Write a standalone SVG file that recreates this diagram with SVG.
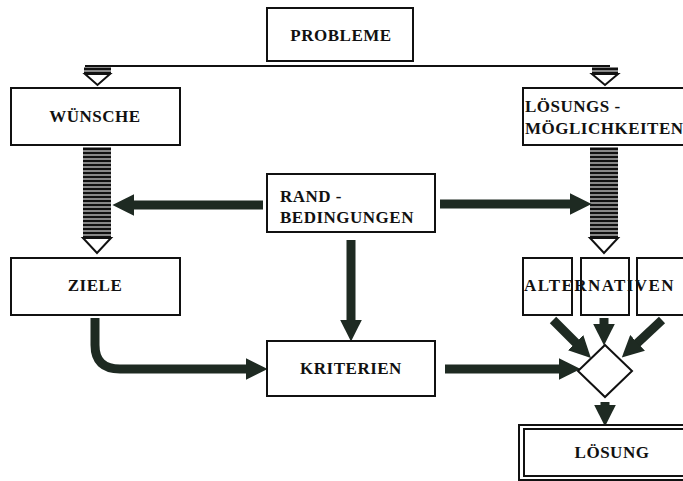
<svg xmlns="http://www.w3.org/2000/svg" width="683" height="481" viewBox="0 0 683 481">
<style>
.box{fill:#fff;stroke:#111;stroke-width:2}
.t{font-family:"Liberation Serif","DejaVu Serif",serif;font-weight:bold;font-size:17px;fill:#111;letter-spacing:0.5px}
.arr{stroke:#1e2a22;stroke-width:9;fill:none}
.tri{fill:#fff;stroke:#111;stroke-width:2}
</style>
<defs>
<pattern id="hatch" width="8" height="4" patternUnits="userSpaceOnUse">
<rect width="8" height="4" fill="#888"/>
<rect width="8" height="2" fill="#111"/>
</pattern>
<marker id="ah" markerWidth="2.4" markerHeight="2.4" refX="1" refY="1.2" orient="auto" markerUnits="strokeWidth">
<path d="M0,0 L2.4,1.2 L0,2.4 z" fill="#1e2a22"/>
</marker>
</defs>

<g id="connectors">
<line x1="85" y1="66" x2="610" y2="66" stroke="#111" stroke-width="2"/>
<rect x="84" y="67" width="27" height="7" fill="url(#hatch)"/>
<polygon class="tri" points="85,74 110,74 97.5,85"/>
<rect x="592" y="67" width="26" height="7" fill="url(#hatch)"/>
<polygon class="tri" points="592,74 618,74 605,85"/>
<rect x="83" y="147" width="28" height="91" fill="url(#hatch)"/>
<polygon class="tri" points="83,238 111,238 97,253"/>
<rect x="590" y="147" width="28" height="91" fill="url(#hatch)"/>
<polygon class="tri" points="590,238 618,238 604,253"/>
<line class="arr" x1="263" y1="205" x2="125" y2="205" marker-end="url(#ah)"/>
<line class="arr" x1="440" y1="204" x2="579" y2="204" marker-end="url(#ah)"/>
<line class="arr" x1="351" y1="240" x2="351" y2="329" marker-end="url(#ah)"/>
<path class="arr" d="M95,318 L95,345 Q95,369 120,369 L255,369" marker-end="url(#ah)"/>
<line class="arr" x1="445" y1="369" x2="568" y2="369" marker-end="url(#ah)"/>
<line class="arr" x1="553" y1="320" x2="582" y2="349" marker-end="url(#ah)"/>
<line class="arr" x1="604" y1="318" x2="604" y2="333" marker-end="url(#ah)"/>
<line class="arr" x1="662" y1="320" x2="631" y2="349" marker-end="url(#ah)"/>
<line class="arr" x1="605" y1="402" x2="605" y2="414" marker-end="url(#ah)"/>
</g>

<g id="probleme">
<rect class="box" x="267" y="8" width="146" height="53"/>
<text class="t" x="341" y="41" text-anchor="middle">PROBLEME</text>
</g>
<g id="wuensche">
<rect class="box" x="11" y="88" width="169" height="57"/>
<text class="t" x="95" y="122" text-anchor="middle">WÜNSCHE</text>
</g>
<g id="loesungsmoeglichkeiten">
<rect class="box" x="523" y="88" width="165" height="57"/>
<text class="t" x="525" y="112">LÖSUNGS -</text>
<text class="t" x="525" y="134">MÖGLICHKEITEN</text>
</g>
<g id="randbedingungen">
<rect class="box" x="267" y="174" width="168" height="58"/>
<text class="t" x="280" y="202">RAND -</text>
<text class="t" x="280" y="223">BEDINGUNGEN</text>
</g>
<g id="ziele">
<rect class="box" x="11" y="258" width="169" height="57"/>
<text class="t" x="95" y="291" text-anchor="middle">ZIELE</text>
</g>
<g id="alternativen">
<rect class="box" x="523" y="258" width="49" height="57"/>
<rect class="box" x="581" y="258" width="48" height="57"/>
<rect class="box" x="637" y="258" width="50" height="57"/>
<text class="t" x="524" y="291" textLength="150" lengthAdjust="spacing">ALTERNATIVEN</text>
</g>
<g id="kriterien">
<rect class="box" x="267" y="341" width="168" height="55"/>
<text class="t" x="351" y="374" text-anchor="middle">KRITERIEN</text>
</g>
<g id="entscheidung">
<polygon class="box" points="605,345 632,371 605,397 578,371"/>
</g>
<g id="loesung">
<rect x="519" y="425" width="170" height="55" fill="#fff" stroke="#111" stroke-width="2"/>
<rect x="524" y="429" width="165" height="47" fill="none" stroke="#111" stroke-width="2"/>
<text class="t" x="612" y="458" text-anchor="middle">LÖSUNG</text>
</g>
</svg>
